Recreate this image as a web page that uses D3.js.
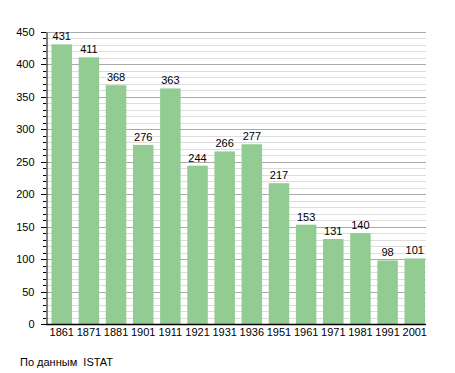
<!DOCTYPE html>
<html>
<head>
<meta charset="utf-8">
<script src="https://cdn.jsdelivr.net/npm/d3@7"></script>
<style>
  body { margin: 0; background: #fff; }
  text { font-family: "Liberation Sans", Arial, sans-serif; }
</style>
</head>
<body>
<div id="chart"></div>
<script>
// census years and population
const years = ['1861', '1871', '1881', '1901', '1911', '1921', '1931', '1936', '1951', '1961', '1971', '1981', '1991', '2001'];
const population = [431, 411, 368, 276, 363, 244, 266, 277, 217, 153, 131, 140, 98, 101];
const yTicks = [0, 50, 100, 150, 200, 250, 300, 350, 400, 450];
const sourceNote = 'По данным  ISTAT';

const width = 455, height = 373;
const margin = {top: 32, right: 29, bottom: 49, left: 46};
const w = width - margin.left - margin.right;
const h = height - margin.top - margin.bottom;

const x = d3.scaleBand()
    .domain(years)
    .range([5.5, w - 1])
    .paddingInner(0.245)
    .paddingOuter(0);

const y = d3.scaleLinear()
    .domain([0, 450])
    .range([h, 0]);

const svg = d3.select('#chart').append('svg')
    .attr('width', width)
    .attr('height', height);

const g = svg.append('g')
    .attr('transform', 'translate(' + margin.left + ',' + margin.top + ')');

// minor grid every 10
g.append('g')
  .selectAll('line')
  .data(d3.range(10, 451, 10).filter(v => v % 50 !== 0))
  .enter().append('line')
    .attr('x1', 0).attr('x2', w)
    .attr('y1', d => Math.round(y(d)) + 0.5)
    .attr('y2', d => Math.round(y(d)) + 0.5)
    .attr('stroke', '#dddddd');

// major grid every 50
g.append('g')
  .selectAll('line')
  .data(yTicks.slice(1))
  .enter().append('line')
    .attr('x1', 0).attr('x2', w)
    .attr('y1', d => Math.round(y(d)) + 0.5)
    .attr('y2', d => Math.round(y(d)) + 0.5)
    .attr('stroke', '#aaaaaa');

g.selectAll('rect.bar')
    .data(population)
    .enter().append('rect')
      .attr('class', 'bar')
      .attr('x', (d, i) => x(years[i]))
      .attr('width', x.bandwidth())
      .attr('y', d => y(d))
      .attr('height', d => h - y(d))
      .attr('fill', '#92cc92');

g.selectAll('text.val')
    .data(population)
    .enter().append('text')
      .attr('class', 'val')
      .attr('x', (d, i) => x(years[i]) + x.bandwidth() / 2)
      .attr('y', d => y(d) - 4)
      .attr('text-anchor', 'middle')
      .attr('font-size', 11)
      .attr('fill', '#000')
      .text(d => d);

// y axis: minor ticks
g.append('g')
  .selectAll('line')
  .data(d3.range(0, 451, 10))
  .enter().append('line')
    .attr('x1', d => d % 50 === 0 ? -5 : -3).attr('x2', 0)
    .attr('y1', d => Math.round(y(d)) + 0.5)
    .attr('y2', d => Math.round(y(d)) + 0.5)
    .attr('stroke', '#000');

const yAxis = d3.axisLeft(y)
    .tickValues(yTicks)
    .tickSize(0)
    .tickPadding(12);

g.append('g')
    .attr('class', 'y axis')
    .attr('transform', 'translate(0.5,0)')
    .call(yAxis)
    .call(s => s.selectAll('text').attr('font-size', 11).attr('fill', '#000'))
    .call(s => s.select('.domain').attr('stroke', '#000'));

const xAxis = d3.axisBottom(x)
    .tickSize(0)
    .tickPadding(4);

g.append('g')
    .attr('class', 'x axis')
    .attr('transform', 'translate(0,' + (h + 0.5) + ')')
    .call(xAxis)
    .call(s => s.selectAll('text').attr('font-size', 11).attr('fill', '#000'))
    .call(s => s.select('.domain').remove());

g.append('line')
    .attr('x1', 0).attr('x2', w)
    .attr('y1', h + 0.5).attr('y2', h + 0.5)
    .attr('stroke', '#000')
    .attr('stroke-width', 1.5);

svg.append('text')
    .attr('x', 20)
    .attr('y', 366)
    .attr('font-size', 11)
    .attr('fill', '#000')
    .style('white-space', 'pre')
    .text(sourceNote);
</script>
</body>
</html>
